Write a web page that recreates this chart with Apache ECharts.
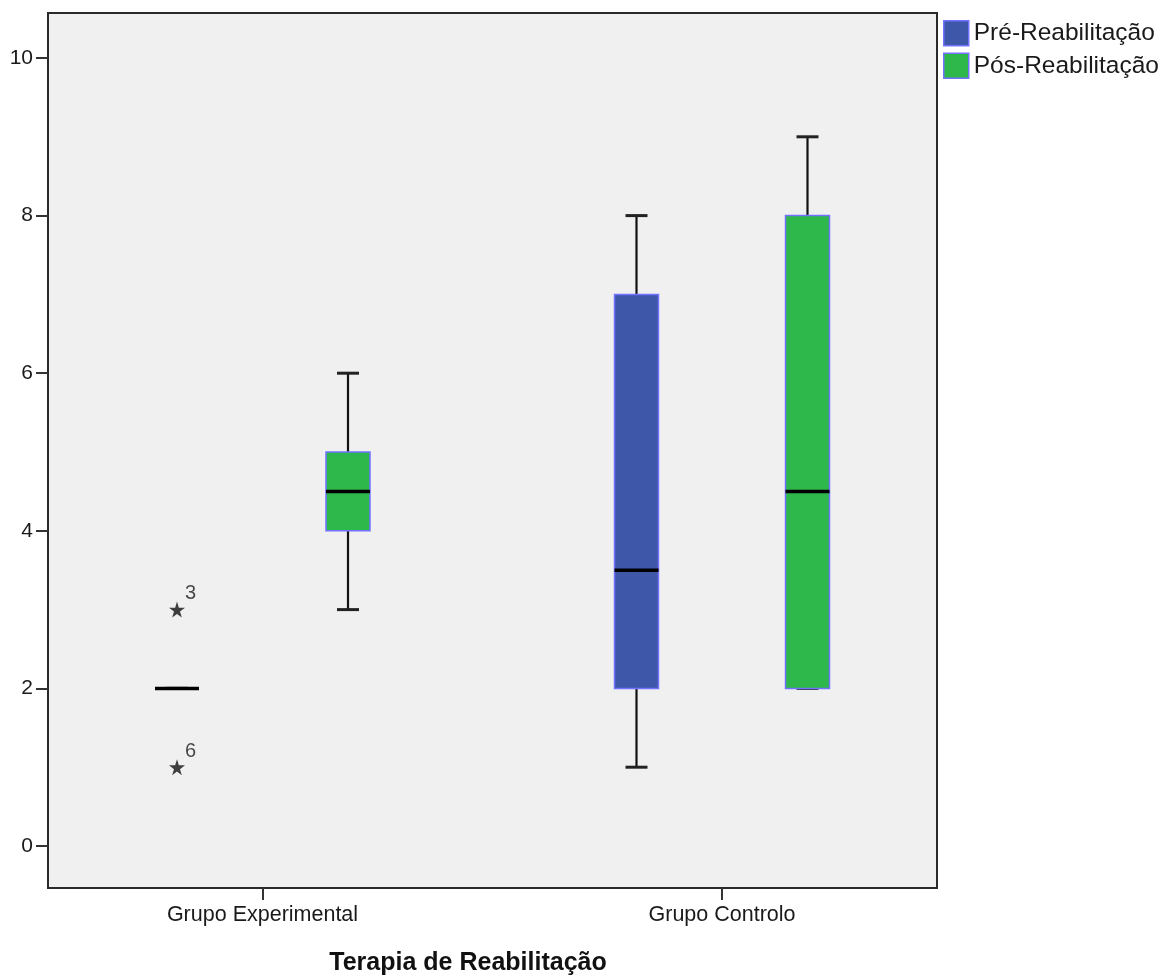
<!DOCTYPE html>
<html>
<head>
<meta charset="utf-8">
<script src="https://cdn.jsdelivr.net/npm/echarts@6/dist/echarts.min.js"></script>
<style>
html,body{margin:0;padding:0;background:#fff;}
#chart{width:1169px;height:977px;}
</style>
</head>
<body>
<div id="chart"></div>
<script>
// ---- data ----
var categories = ['Grupo Experimental', 'Grupo Controlo'];
var seriesNames = ['Pré-Reabilitação', 'Pós-Reabilitação'];
// [min, Q1, median, Q3, max]
var preStats = [[2, 2, 2, 2, 2], [1, 2, 3.5, 7, 8]];
var postStats = [[3, 4, 4.5, 5, 6], [2, 2, 4.5, 8, 9]];
// [category index, value, case label]
var preOutliers = [[0, 3, '3'], [0, 1, '6']];
var yTicks = [0, 2, 4, 6, 8, 10];

// ---- styles ----
var FONT = 'Liberation Sans';
var colors = ['#3e57a9', '#2eb74a'];
var BORDER = '#7272ff';
var OFFSET = 85.5, BOX_W = 44, CAP_W = 22;

function toData(stats) {
  return stats.map(function (s, i) { return [i].concat(s); });
}

function makeRender(side) {
  return function (params, api) {
    var c = api.value(0);
    var cx = api.coord([c, 0])[0] + side * OFFSET;
    var y = function (v) { return api.coord([c, v])[1]; };
    var yMin = y(api.value(1)), yQ1 = y(api.value(2)), yMed = y(api.value(3)),
        yQ3 = y(api.value(4)), yMax = y(api.value(5));
    var children = [];
    var lineStyle = { stroke: '#111', lineWidth: 2.2 };
    if (yMax < yQ3) {
      children.push({ type: 'line', shape: { x1: cx, y1: yQ3, x2: cx, y2: yMax }, style: lineStyle });
    }
    if (yMin > yQ1) {
      children.push({ type: 'line', shape: { x1: cx, y1: yQ1, x2: cx, y2: yMin }, style: lineStyle });
    }
    children.push({ type: 'line', shape: { x1: cx - CAP_W / 2, y1: yMax, x2: cx + CAP_W / 2, y2: yMax }, style: { stroke: '#222', lineWidth: 3 } });
    children.push({ type: 'line', shape: { x1: cx - CAP_W / 2, y1: yMin, x2: cx + CAP_W / 2, y2: yMin }, style: { stroke: '#222', lineWidth: 3 } });
    if (yQ1 - yQ3 > 0.5) {
      children.push({ type: 'rect', shape: { x: cx - BOX_W / 2, y: yQ3, width: BOX_W, height: yQ1 - yQ3 },
        style: { fill: api.visual('color'), stroke: BORDER, lineWidth: 1.5 } });
    }
    children.push({ type: 'line', shape: { x1: cx - BOX_W / 2, y1: yMed, x2: cx + BOX_W / 2, y2: yMed }, style: { stroke: '#000', lineWidth: 3.5 } });
    return { type: 'group', children: children };
  };
}

var chart = echarts.init(document.getElementById('chart'), null, { renderer: 'canvas' });

var option = {
  animation: false,
  backgroundColor: '#ffffff',
  textStyle: { fontFamily: FONT },
  legend: {
    left: 938, top: 15, orient: 'vertical',
    itemWidth: 25, itemHeight: 25, itemGap: 6,
    icon: 'rect',
    textStyle: { fontFamily: FONT, fontSize: 24.5, color: '#1a1a1a', padding: [0, 0, 0, 0] },
    data: [
      { name: seriesNames[0], itemStyle: { color: colors[0], borderColor: BORDER, borderWidth: 1.5 } },
      { name: seriesNames[1], itemStyle: { color: colors[1], borderColor: BORDER, borderWidth: 1.5 } }
    ]
  },
  grid: [
    { left: 48, right: 232, top: 13, bottom: 89, show: true, backgroundColor: '#f0f0f0', borderColor: '#2a2a2a', borderWidth: 2 },
    { left: 48, right: 232, top: 58, bottom: 131, show: false },
    { left: 32.75, right: 217.25, top: 13, bottom: 89, show: false }
  ],
  xAxis: [
    { type: 'value', gridIndex: 0, min: -0.4668, max: 1.4679, show: false },
    { type: 'value', gridIndex: 1, min: 0, max: 1, show: false },
    { type: 'category', gridIndex: 2, data: categories,
      axisLine: { show: false },
      axisTick: { show: true, alignWithLabel: true, length: 12, lineStyle: { color: '#333', width: 2 } },
      axisLabel: { margin: 16, fontFamily: FONT, fontSize: 21.5, color: '#1a1a1a' },
      splitLine: { show: false } }
  ],
  yAxis: [
    { type: 'value', gridIndex: 0, min: -0.533, max: 10.571, show: false },
    { type: 'value', gridIndex: 1, min: yTicks[0], max: yTicks[yTicks.length - 1], interval: 2,
      axisLine: { show: false },
      axisTick: { show: true, length: 12, lineStyle: { color: '#333', width: 2 } },
      axisLabel: { margin: 15, fontFamily: FONT, fontSize: 21, color: '#1a1a1a' },
      splitLine: { show: false } },
    { type: 'value', gridIndex: 2, show: false }
  ],
  series: [
    { name: seriesNames[0], type: 'custom', xAxisIndex: 0, yAxisIndex: 0,
      itemStyle: { color: colors[0] }, renderItem: makeRender(-1), data: toData(preStats), z: 3 },
    { name: seriesNames[1], type: 'custom', xAxisIndex: 0, yAxisIndex: 0,
      itemStyle: { color: colors[1] }, renderItem: makeRender(1), data: toData(postStats), z: 3 },
    { name: 'outliers', type: 'scatter', xAxisIndex: 0, yAxisIndex: 0, z: 4,
      symbol: 'path://M50,0 L61,35 L98,35 L68,57 L79,91 L50,70 L21,91 L32,57 L2,35 L39,35 Z',
      symbolSize: 16, symbolOffset: [-OFFSET, 0],
      itemStyle: { color: '#111' },
      label: { show: true, position: [16, -18], formatter: function (p) { return p.data[2]; },
        fontFamily: FONT, fontSize: 20, color: '#1a1a1a' },
      data: preOutliers }
  ],
  graphic: [
    { type: 'text', x: 468, y: 963, style: { text: 'Terapia de Reabilitação', fontFamily: FONT, fontSize: 25, fontWeight: 'bold', fill: '#111', textAlign: 'center', textVerticalAlign: 'middle' } }
  ]
};
chart.setOption(option);
</script>
</body>
</html>
